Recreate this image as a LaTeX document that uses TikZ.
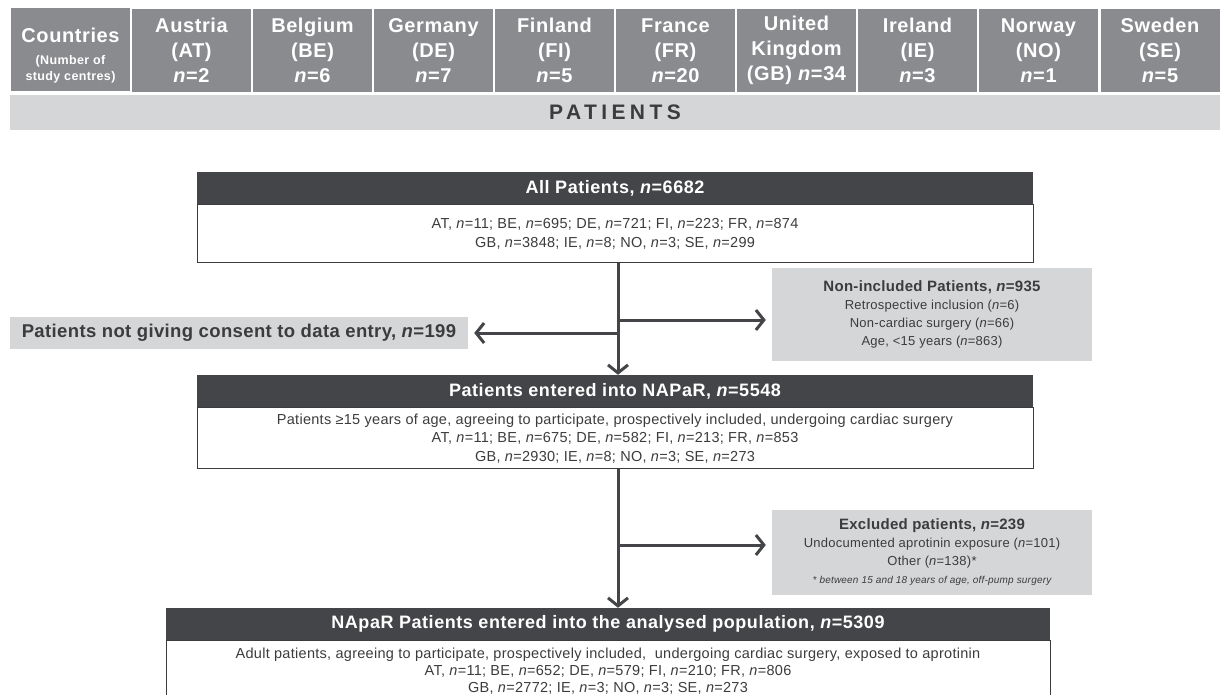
\documentclass[tikz,border=0pt]{standalone}
\usepackage{fontspec}
\setmainfont{Liberation Sans}
\usetikzlibrary{arrows.meta,positioning}

\definecolor{hdrgray}{HTML}{8A8B8F}
\definecolor{palegray}{HTML}{D5D6D8}
\definecolor{headdark}{HTML}{444548}
\definecolor{inkgray}{HTML}{3C3C3E}

\newcommand{\nn}{\textit{n}}
\newcommand{\smallhdr}{\fontsize{12.5}{15}\selectfont}
\newcommand{\sidetitle}{\fontsize{15}{18}\selectfont\bfseries}

\tikzset{
  country/.style={fill=hdrgray, text=white, minimum width=119pt, minimum height=83pt,
    inner sep=0pt, align=center, font=\fontsize{20}{25}\selectfont\bfseries\addfontfeature{LetterSpace=3}},
  band/.style={fill=palegray, text=inkgray, minimum width=1210pt, minimum height=35pt,
    inner sep=0pt, font=\fontsize{21}{24}\selectfont\bfseries\addfontfeature{LetterSpace=21}},
  boxhead/.style={fill=headdark, text=white, minimum width=836pt, minimum height=32pt,
    inner sep=0pt, font=\fontsize{18}{20}\selectfont\bfseries\addfontfeature{LetterSpace=3}},
  boxbody/.style={draw=inkgray, line width=1pt, fill=white, text=inkgray, minimum width=836pt,
    inner sep=0pt, align=center, font=\fontsize{14.5}{18.5}\selectfont\addfontfeature{LetterSpace=2}},
  sidebox/.style={fill=palegray, text=inkgray, inner sep=0pt, align=center,
    font=\fontsize{13}{18}\selectfont\addfontfeature{LetterSpace=2}},
  flow/.style={draw=headdark, line width=3pt, -{Straight Barb[length=8pt,width=20pt,line width=3pt]}}
}

\begin{document}
\begin{tikzpicture}[x=1pt, y=-1pt]
  \useasboundingbox (0,0) rectangle (1220,694);

  % country header row
  \node[country] (cnt) at (70.5,49.5) {};
  \node[text=white, align=center, inner sep=0pt,
    font=\fontsize{20}{23}\selectfont\bfseries\addfontfeature{LetterSpace=3}] (cnttxt) at (70.5,56)
    {Countries\\[-1pt]\smallhdr (Number of\\[-7pt]\smallhdr study centres)};
  \node[country] (at) at (191.5,50.5) {Austria\\(AT)\\\nn=2};
  \node[country] (be) at (312.5,50.5) {Belgium\\(BE)\\\nn=6};
  \node[country] (de) at (433.5,50.5) {Germany\\(DE)\\\nn=7};
  \node[country] (fi) at (554.5,50.5) {Finland\\(FI)\\\nn=5};
  \node[country] (fr) at (675.5,50.5) {France\\(FR)\\\nn=20};
  \node[country] (gb) at (796.5,50.5) {United\\Kingdom\\(GB) \nn=34};
  \node[country] (ie) at (917.5,50.5) {Ireland\\(IE)\\\nn=3};
  \node[country] (no) at (1038.5,50.5) {Norway\\(NO)\\\nn=1};
  \node[country] (se) at (1160,50.5) {Sweden\\(SE)\\\nn=5};

  \node[band] (pat) at (615,112.5) {PATIENTS};

  % flow boxes
  \node[boxhead] (h1) at (615,188) {All Patients, \nn=6682};
  \node[boxbody, minimum height=58pt, below=0pt of h1] (b1)
    {AT, \nn=11; BE, \nn=695; DE, \nn=721; FI, \nn=223; FR, \nn=874\\
     GB, \nn=3848; IE, \nn=8; NO, \nn=3; SE, \nn=299};

  \node[sidebox, minimum width=458pt, minimum height=32pt,
    font=\fontsize{18.5}{20}\selectfont\bfseries\addfontfeature{LetterSpace=2}] (consent) at (239,333)
    {Patients not giving consent to data entry, \nn=199};
  \node[sidebox, minimum width=320pt, minimum height=93pt] (nonincl) at (932,314.5)
    {{\sidetitle Non-included Patients, \nn=935}\\
     Retrospective inclusion (\nn=6)\\
     Non-cardiac surgery (\nn=66)\\
     Age, <15 years (\nn=863)};

  \node[boxhead] (h2) at (615,391) {Patients entered into NAPaR, \nn=5548};
  \node[boxbody, minimum height=61pt, below=0pt of h2] (b2)
    {Patients ≥15 years of age, agreeing to participate, prospectively included, undergoing cardiac surgery\\
     AT, \nn=11; BE, \nn=675; DE, \nn=582; FI, \nn=213; FR, \nn=853\\
     GB, \nn=2930; IE, \nn=8; NO, \nn=3; SE, \nn=273};

  \node[sidebox, minimum width=320pt, minimum height=85pt] (excl) at (932,552.5)
    {{\sidetitle Excluded patients, \nn=239}\\
     Undocumented aprotinin exposure (\nn=101)\\
     Other (\nn=138)*\\
     {\fontsize{10}{14}\selectfont\itshape * between 15 and 18 years of age, off-pump surgery}};

  \node[boxhead, minimum width=884pt] (h3) at (608,624)
    {NApaR Patients entered into the analysed population, \nn=5309};
  \node[boxbody, minimum width=884pt, minimum height=60pt,
    font=\fontsize{14.5}{17}\selectfont\addfontfeature{LetterSpace=2}, below=0pt of h3] (b3)
    {Adult patients, agreeing to participate, prospectively included, \ undergoing cardiac surgery, exposed to aprotinin\\
     AT, \nn=11; BE, \nn=652; DE, \nn=579; FI, \nn=210; FR, \nn=806\\
     GB, \nn=2772; IE, \nn=3; NO, \nn=3; SE, \nn=273};

  % connectors
  \coordinate (s1) at (618,320);
  \coordinate (s2) at (618,333);
  \coordinate (s3) at (618,545);
  \draw[flow] (b1.south -| s1) -- (h2.north -| s1);
  \draw[flow, shorten >=6pt] (s1) -- (nonincl.west |- s1);
  \draw[flow, shorten >=6pt] (s2) -- (consent.east |- s2);
  \draw[flow] (b2.south -| s3) -- (h3.north -| s3);
  \draw[flow, shorten >=6pt] (s3) -- (excl.west |- s3);

\end{tikzpicture}
\end{document}
